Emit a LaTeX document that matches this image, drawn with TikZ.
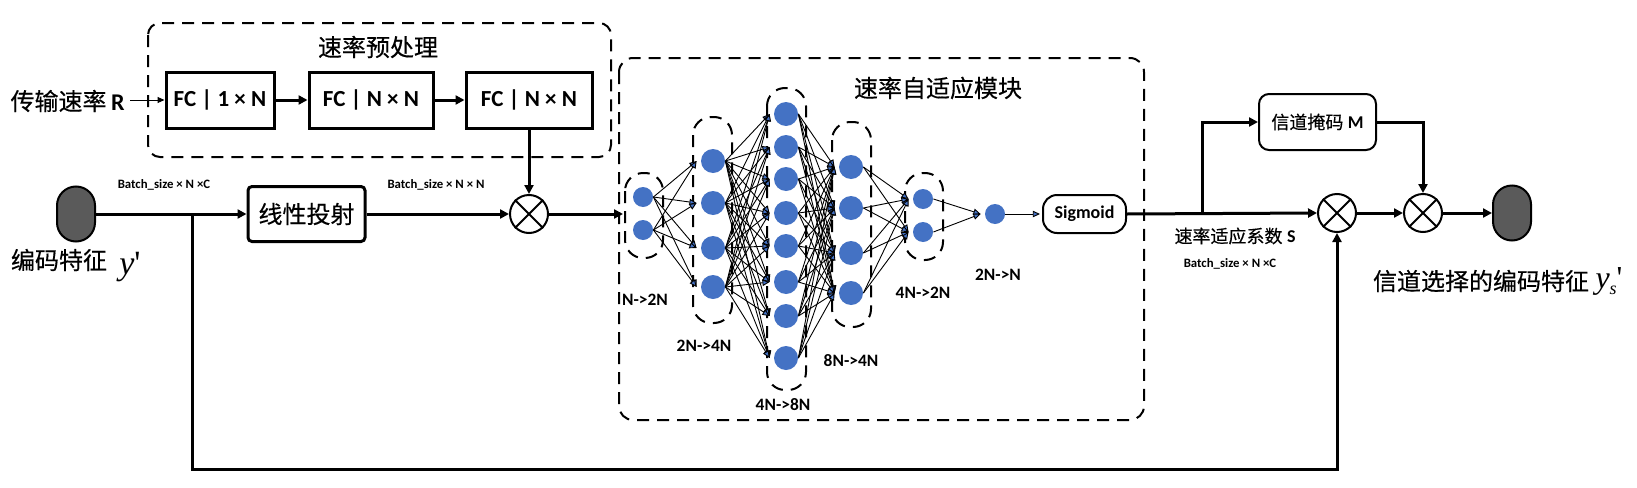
\documentclass[tikz,border=0pt]{standalone}
\usepackage{fontspec}
\setmainfont{Carlito}
\newfontfamily\cjk{Noto Sans CJK SC}[FakeBold=0.4]
\newfontfamily\tms{Liberation Serif}
\usetikzlibrary{arrows.meta,calc}
\definecolor{nblue}{HTML}{4472C4}
\definecolor{dgray}{HTML}{5A5A5A}
\begin{document}
\begin{tikzpicture}[x=0.5pt,y=-0.5pt,
  arr/.style={line width=1.5pt,-{Triangle[length=4.5pt,width=4.5pt]}},
  thinarr/.style={line width=0.5pt,-{Triangle[length=3.5pt,width=3pt]}},
  edge/.style={line width=0.45pt,-{Triangle[length=3.6pt,width=3.2pt,fill=nblue]}},
  dbox/.style={draw,line width=1pt,dash pattern=on 6pt off 4pt},
  fcbox/.style={draw,line width=1.5pt,minimum height=28pt,inner sep=0pt,font=\fontsize{11.5}{13}\selectfont\bfseries},
  otimes/.style={draw,circle,line width=1pt,minimum size=19pt,inner sep=0pt},
  enc/.style={draw,line width=1pt,fill=dgray,rounded corners=9.5pt,minimum width=19pt,minimum height=27.5pt,inner sep=0pt},
  neuS/.style={circle,fill=nblue,minimum size=10pt,inner sep=0pt},
  neuL/.style={circle,fill=nblue,minimum size=12pt,inner sep=0pt},
  zh/.style={font=\cjk\fontsize{12}{14}\selectfont,inner sep=0pt},
  zhs/.style={font=\cjk\fontsize{9}{11}\selectfont,inner sep=0pt},
  bsz/.style={font=\fontsize{6.4}{7}\selectfont\bfseries,inner sep=0pt},
  lay/.style={font=\fontsize{8.7}{10}\selectfont\bfseries,inner sep=0pt}
]
\useasboundingbox (0,0) rectangle (1637,487);

% ---------- rate preprocessing block ----------
\draw[dbox,rounded corners=6pt] (148,23) rectangle (611,157);
\node[zh] (t1) at (378,47) {速率预处理};
\node[fcbox,minimum width=54pt] (fc1) at (220,100) {FC | 1 × N};
\node[fcbox,minimum width=62pt] (fc2) at (371,100) {FC | N × N};
\node[fcbox,minimum width=63pt] (fc3) at (529,100) {FC | N × N};
\node[anchor=east,inner sep=0pt] (rtxt) at (125,101) {{\cjk\fontsize{12}{14}\selectfont 传输速率} {\fontsize{12}{14}\selectfont\bfseries R}};
\coordinate (rs) at (130,100);
\draw[thinarr] (rs) -- (fc1.west);
\draw[arr] (fc1.east) -- (fc2.west);
\draw[arr] (fc2.east) -- (fc3.west);

% ---------- left input ----------
\node[enc] (encL) at (76,214) {};
\node[zh] (encLt) at (59,260) {编码特征};
\node[inner sep=0pt] (yp) at (130,267) {\tms\fontsize{17}{19}\selectfont\itshape y\/\upshape '};
\node[bsz] (b1) at (164,185) {Batch\_size × N ×C};
\node[draw,line width=1.5pt,rounded corners=2pt,minimum width=58.5pt,minimum height=27.5pt,inner sep=0pt,zh] (lin) at (306.5,214) {线性投射};
\node[bsz] (b2) at (436,185) {Batch\_size × N × N};
\node[otimes] (ot0) at (529,214) {};
\draw[line width=1pt] (ot0.north east) -- (ot0.south west) (ot0.north west) -- (ot0.south east);
\coordinate (br1) at (192,214);
\draw[arr] (encL.east) -- (lin.west);
\draw[arr] (lin.east) -- (ot0.west);
\draw[arr] (fc3.south) -- (ot0.north);

% ---------- rate adaptive module ----------
\draw[dbox,rounded corners=7pt] (619,58) rectangle (1144,420);
\node[zh] (t2) at (938,88) {速率自适应模块};
\coordinate (in2) at (623,214);
\draw[arr] (ot0.east) -- (in2);

% layer boxes
\draw[dbox,rounded corners=9pt] (625,173) rectangle (663,258);
\draw[dbox,rounded corners=9pt] (693,117) rectangle (732,323);
\draw[dbox,rounded corners=9pt] (767,88) rectangle (806,390);
\draw[dbox,rounded corners=9pt] (832,122) rectangle (871,327);
\draw[dbox,rounded corners=9pt] (905,173) rectangle (943,260);

% neurons
\foreach \y [count=\i] in {197,230} \node[neuS] (la\i) at (643,\y) {};
\foreach \y [count=\i] in {161,203,248,287} \node[neuL] (lb\i) at (713,\y) {};
\foreach \y [count=\i] in {114,147,179,213,246,282,316,358} \node[neuL] (lc\i) at (786,\y) {};
\foreach \y [count=\i] in {167,208,253,293} \node[neuL] (ld\i) at (851,\y) {};
\foreach \y [count=\i] in {199,232} \node[neuS] (le\i) at (923,\y) {};
\node[neuS] (lf) at (995,214) {};

% connections
\foreach \a in {1,2} \foreach \b in {1,...,4}
  \draw[edge] (la\a.east) -- ($(lb\b.west)+(-4,0)$);
\foreach \a in {1,...,4} \foreach \b in {1,...,8}
  \draw[edge] (lb\a.east) -- ($(lc\b.west)+(-4,0)$);
\foreach \a in {1,...,8} \foreach \b in {1,...,4}
  \draw[edge] (lc\a.east) -- ($(ld\b.west)+(-4,0)$);
\foreach \a in {1,...,4} \foreach \b in {1,2}
  \draw[edge] (ld\a.east) -- ($(le\b.west)+(-4,0)$);
\foreach \a in {1,2}
  \draw[edge] (le\a.east) -- ($(lf.west)+(-4,0)$);

% layer labels
\node[lay] (n1) at (645,300) {N->2N};
\node[lay] (n2) at (704,346) {2N->4N};
\node[lay] (n3) at (783,405) {4N->8N};
\node[lay] (n4) at (851,361) {8N->4N};
\node[lay] (n5) at (923,293) {4N->2N};
\node[lay] (n6) at (998,275) {2N->N};

\node[draw,line width=1pt,rounded corners=7pt,minimum width=41.5pt,minimum height=19pt,inner sep=0pt,font=\fontsize{9}{11}\selectfont\bfseries] (sig) at (1084.5,214) {Sigmoid};
\draw[edge] (lf.east) -- ($(sig.west)+(-2,0)$);

% ---------- right part ----------
\node[draw,line width=1pt,rounded corners=5pt,minimum width=58.5pt,minimum height=28pt,inner sep=0pt] (mbox) at (1317.5,122) {{\cjk\fontsize{9}{11}\selectfont 信道掩码} {\fontsize{9}{11}\selectfont\bfseries M}};
\node[otimes] (ot1) at (1337,213) {};
\draw[line width=1pt] (ot1.north east) -- (ot1.south west) (ot1.north west) -- (ot1.south east);
\node[otimes] (ot2) at (1423,213) {};
\draw[line width=1pt] (ot2.north east) -- (ot2.south west) (ot2.north west) -- (ot2.south east);
\node[enc] (encR) at (1512,213) {};
\coordinate (br2) at (1202,213);
\draw[arr] (sig.east) -- (ot1.west);
\draw[arr] (br2) |- (mbox.west);
\draw[arr] (mbox.east) -| (ot2.north);
\draw[arr] (ot1.east) -- (ot2.west);
\draw[arr] (ot2.east) -- (encR.west);
\node[inner sep=0pt] (st) at (1235,236) {{\cjk\fontsize{9}{11}\selectfont 速率适应系数} {\fontsize{9}{11}\selectfont\bfseries S}};
\node[bsz] (b3) at (1230,264) {Batch\_size × N ×C};
\node[zh] (outt) at (1481,281) {信道选择的编码特征};
\node[inner sep=0pt] (ysp) at (1609,281) {\tms\fontsize{16}{18}\selectfont\itshape y\raisebox{-3pt}{\fontsize{9}{10}\selectfont s}\upshape '};

% feedback
\coordinate (fb) at (192,469);
\draw[arr] (br1) -- (fb) -| (ot1.south);
\end{tikzpicture}
\end{document}
